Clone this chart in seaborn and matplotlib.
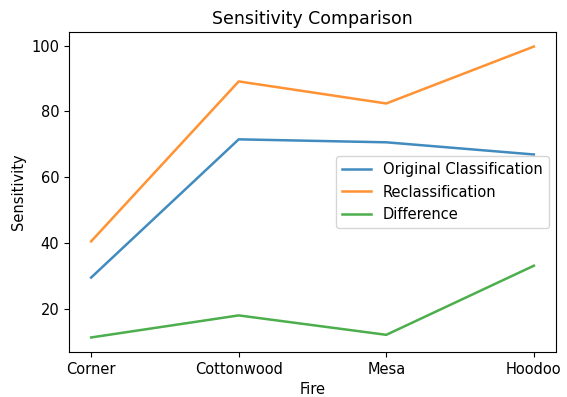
import seaborn as sns
import pandas as pd
from matplotlib import pyplot as plt

fires = ['Corner', 'Cottonwood', 'Mesa', 'Hoodoo']
original = [29.5, 71.5, 70.6, 66.9]
reclass = [40.5, 89.1, 82.4, 99.7]
difference = [11.3, 18.0, 12.1, 33.1]

df = pd.DataFrame({
    'Fire': fires * 3,
    'Sensitivity': original + reclass + difference,
    'Series': ['Original Classification'] * 4 + ['Reclassification'] * 4 + ['Difference'] * 4,
})

fig = plt.figure(figsize=(5.67, 3.97), dpi=100)
ax = fig.add_axes([69 / 567, 1 - 352 / 397, (556 - 69) / 567, (352 - 32) / 397])
sns.lineplot(data=df, x='Fire', y='Sensitivity', hue='Series', ax=ax, sort=False,
             linewidth=1.8, alpha=0.85)
ax.legend(loc='center right', fontsize=10.5)
ax.set_title('Sensitivity Comparison', fontsize=12.5)
ax.set_xlabel('Fire', fontsize=10.5)
ax.set_ylabel('Sensitivity', fontsize=10.5)
ax.tick_params(labelsize=10.5)
fig.savefig('out.png', dpi=100)
